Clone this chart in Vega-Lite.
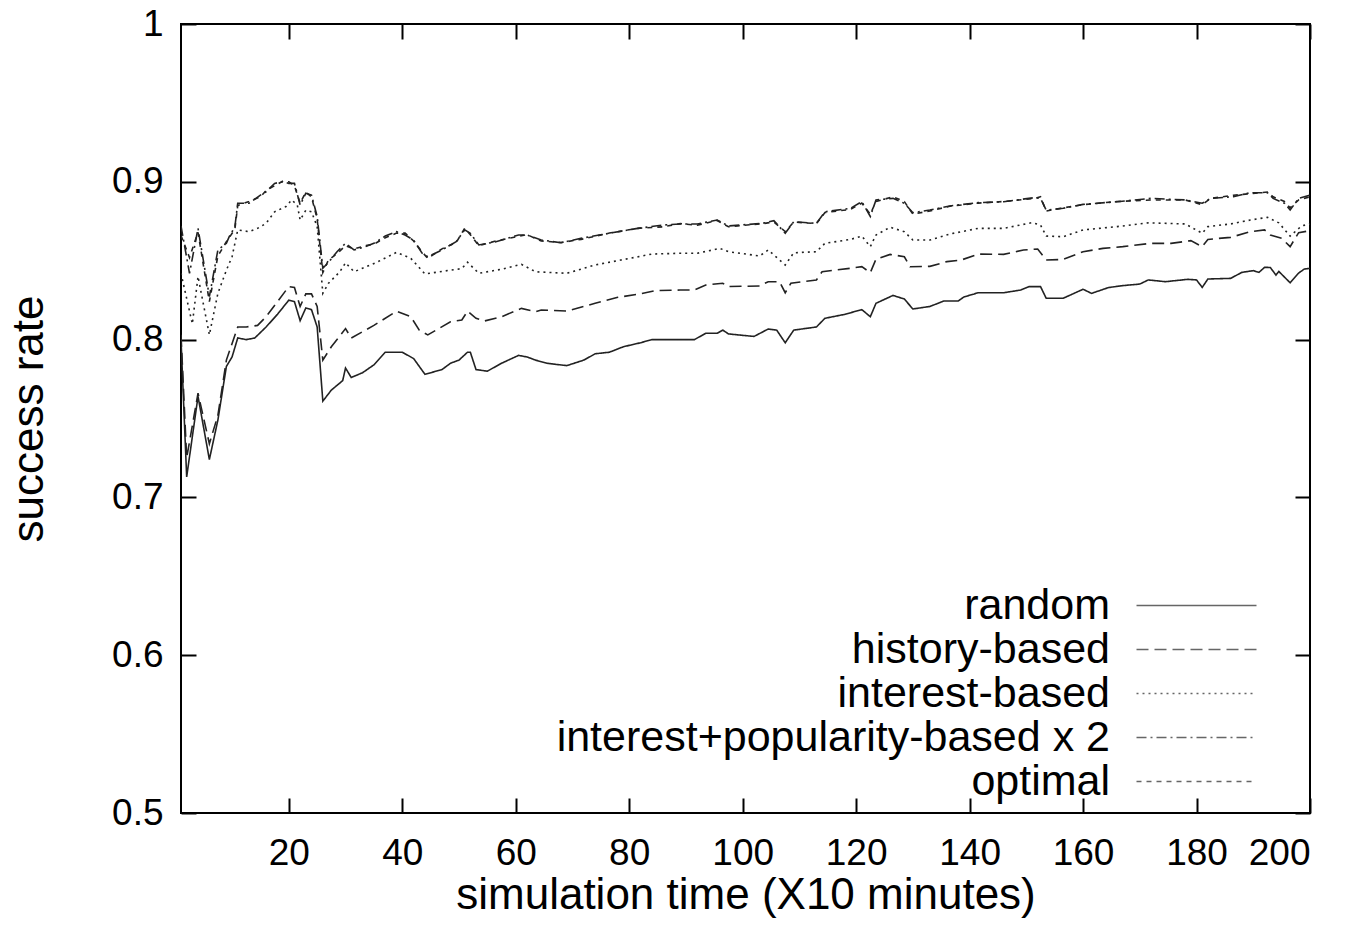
{
  "$schema": "https://vega.github.io/schema/vega-lite/v6.json",
  "width": 1129,
  "height": 789,
  "autosize": {"type": "none"},
  "padding": {"left": 181, "top": 24, "right": 46, "bottom": 132},
  "background": "white",
  "config": {
    "font": "Liberation Sans",
    "view": {"stroke": "#000", "strokeWidth": 2},
    "axis": {
      "grid": false, "domain": false, "ticks": true, "tickColor": "#000", "tickWidth": 2, "tickSize": -15,
      "labelColor": "#000", "labelFontSize": 37, "labelFont": "Liberation Sans",
      "titleFont": "Liberation Sans", "titleFontSize": 44, "titleFontWeight": "normal", "titleColor": "#000"
    },
    "legend": {
      "orient": "none", "legendX": 994, "legendY": 560, "title": null,
      "symbolType": "M-6,0H6", "symbolSize": 400, "symbolStrokeWidth": 1.5, "symbolStrokeColor": "#666", "symbolFillColor": "transparent",
      "labelAlign": "right", "labelOffset": -108, "labelFontSize": 43, "labelColor": "#000",
      "labelFont": "Liberation Sans", "rowPadding": -2.5, "padding": 0, "labelLimit": 0
    }
  },
  "datasets": {
    "d": [
      {"t":1,"s":"random","v":0.800},{"t":2,"s":"random","v":0.713},{"t":4,"s":"random","v":0.764},{"t":6,"s":"random","v":0.724},{"t":7.5,"s":"random","v":0.749},{"t":9,"s":"random","v":0.783},{"t":10,"s":"random","v":0.789},{"t":11,"s":"random","v":0.801},{"t":12.5,"s":"random","v":0.800},{"t":14,"s":"random","v":0.801},{"t":16,"s":"random","v":0.808},{"t":18,"s":"random","v":0.816},{"t":20,"s":"random","v":0.825},{"t":21,"s":"random","v":0.824},{"t":22,"s":"random","v":0.812},{"t":23,"s":"random","v":0.820},{"t":24,"s":"random","v":0.819},{"t":25,"s":"random","v":0.808},{"t":26,"s":"random","v":0.761},{"t":27.5,"s":"random","v":0.768},{"t":29.5,"s":"random","v":0.774},{"t":30,"s":"random","v":0.782},{"t":31,"s":"random","v":0.776},{"t":33,"s":"random","v":0.779},{"t":35,"s":"random","v":0.784},{"t":37,"s":"random","v":0.792},{"t":40,"s":"random","v":0.792},{"t":42,"s":"random","v":0.788},{"t":44,"s":"random","v":0.778},{"t":47,"s":"random","v":0.781},{"t":48.5,"s":"random","v":0.785},{"t":50,"s":"random","v":0.787},{"t":51.5,"s":"random","v":0.792},{"t":52,"s":"random","v":0.792},{"t":53,"s":"random","v":0.781},{"t":55,"s":"random","v":0.780},{"t":57.5,"s":"random","v":0.785},{"t":60.5,"s":"random","v":0.790},{"t":62,"s":"random","v":0.789},{"t":63.5,"s":"random","v":0.787},{"t":65.5,"s":"random","v":0.785},{"t":69,"s":"random","v":0.7835},{"t":72,"s":"random","v":0.787},{"t":74,"s":"random","v":0.791},{"t":76.5,"s":"random","v":0.792},{"t":79,"s":"random","v":0.7955},{"t":82,"s":"random","v":0.798},{"t":84,"s":"random","v":0.800},{"t":89,"s":"random","v":0.800},{"t":91.5,"s":"random","v":0.800},{"t":93.5,"s":"random","v":0.804},{"t":95.5,"s":"random","v":0.804},{"t":96.5,"s":"random","v":0.806},{"t":97.5,"s":"random","v":0.8036},{"t":102,"s":"random","v":0.802},{"t":104.5,"s":"random","v":0.8067},{"t":106,"s":"random","v":0.806},{"t":107.5,"s":"random","v":0.798},{"t":109,"s":"random","v":0.806},{"t":113,"s":"random","v":0.808},{"t":114.5,"s":"random","v":0.8135},{"t":118,"s":"random","v":0.816},{"t":121,"s":"random","v":0.819},{"t":122.5,"s":"random","v":0.8145},{"t":123.5,"s":"random","v":0.823},{"t":126.5,"s":"random","v":0.828},{"t":128.5,"s":"random","v":0.8257},{"t":130,"s":"random","v":0.8194},{"t":133,"s":"random","v":0.821},{"t":135.5,"s":"random","v":0.8245},{"t":138,"s":"random","v":0.8245},{"t":139,"s":"random","v":0.827},{"t":141.5,"s":"random","v":0.8297},{"t":146,"s":"random","v":0.8297},{"t":149,"s":"random","v":0.8314},{"t":150.5,"s":"random","v":0.8336},{"t":152.5,"s":"random","v":0.8336},{"t":153.5,"s":"random","v":0.8262},{"t":156.5,"s":"random","v":0.8262},{"t":160,"s":"random","v":0.8319},{"t":161.5,"s":"random","v":0.8293},{"t":164.5,"s":"random","v":0.833},{"t":167,"s":"random","v":0.8342},{"t":170,"s":"random","v":0.8352},{"t":171.5,"s":"random","v":0.8378},{"t":174.5,"s":"random","v":0.8367},{"t":178.5,"s":"random","v":0.8382},{"t":180,"s":"random","v":0.8378},{"t":181,"s":"random","v":0.8331},{"t":182,"s":"random","v":0.8384},{"t":186,"s":"random","v":0.8388},{"t":188,"s":"random","v":0.8426},{"t":190,"s":"random","v":0.8437},{"t":191,"s":"random","v":0.8426},{"t":192,"s":"random","v":0.8458},{"t":193,"s":"random","v":0.8457},{"t":194,"s":"random","v":0.8409},{"t":194.5,"s":"random","v":0.8432},{"t":196.5,"s":"random","v":0.836},{"t":198,"s":"random","v":0.8422},{"t":199,"s":"random","v":0.8447},{"t":200,"s":"random","v":0.8452},

      {"t":1,"s":"history-based","v":0.803},{"t":2,"s":"history-based","v":0.725},{"t":4,"s":"history-based","v":0.766},{"t":6,"s":"history-based","v":0.734},{"t":7.5,"s":"history-based","v":0.752},{"t":9,"s":"history-based","v":0.787},{"t":11,"s":"history-based","v":0.808},{"t":12.5,"s":"history-based","v":0.808},{"t":14.5,"s":"history-based","v":0.809},{"t":16,"s":"history-based","v":0.8145},{"t":18,"s":"history-based","v":0.824},{"t":20,"s":"history-based","v":0.8336},{"t":21,"s":"history-based","v":0.833},{"t":22,"s":"history-based","v":0.821},{"t":23,"s":"history-based","v":0.829},{"t":24,"s":"history-based","v":0.829},{"t":25,"s":"history-based","v":0.821},{"t":26,"s":"history-based","v":0.787},{"t":27.5,"s":"history-based","v":0.7955},{"t":30,"s":"history-based","v":0.807},{"t":31,"s":"history-based","v":0.801},{"t":33,"s":"history-based","v":0.805},{"t":35,"s":"history-based","v":0.809},{"t":39,"s":"history-based","v":0.818},{"t":41.5,"s":"history-based","v":0.8145},{"t":43,"s":"history-based","v":0.806},{"t":44.5,"s":"history-based","v":0.803},{"t":48.5,"s":"history-based","v":0.8113},{"t":50.5,"s":"history-based","v":0.8124},{"t":51.5,"s":"history-based","v":0.818},{"t":53,"s":"history-based","v":0.8135},{"t":54.5,"s":"history-based","v":0.8118},{"t":57.5,"s":"history-based","v":0.8145},{"t":61,"s":"history-based","v":0.8198},{"t":63.5,"s":"history-based","v":0.8177},{"t":64.5,"s":"history-based","v":0.8188},{"t":69,"s":"history-based","v":0.8181},{"t":74,"s":"history-based","v":0.823},{"t":78,"s":"history-based","v":0.8268},{"t":81.5,"s":"history-based","v":0.8287},{"t":84.5,"s":"history-based","v":0.831},{"t":89,"s":"history-based","v":0.8314},{"t":91.5,"s":"history-based","v":0.8314},{"t":93.5,"s":"history-based","v":0.8346},{"t":96.5,"s":"history-based","v":0.8357},{"t":97.5,"s":"history-based","v":0.8336},{"t":103,"s":"history-based","v":0.834},{"t":104.5,"s":"history-based","v":0.8367},{"t":106.5,"s":"history-based","v":0.8367},{"t":107.5,"s":"history-based","v":0.8297},{"t":108.5,"s":"history-based","v":0.8357},{"t":113,"s":"history-based","v":0.8378},{"t":114,"s":"history-based","v":0.843},{"t":119,"s":"history-based","v":0.8452},{"t":121,"s":"history-based","v":0.8462},{"t":122.5,"s":"history-based","v":0.8424},{"t":123.5,"s":"history-based","v":0.851},{"t":126,"s":"history-based","v":0.854},{"t":128.5,"s":"history-based","v":0.8525},{"t":129.5,"s":"history-based","v":0.8462},{"t":133,"s":"history-based","v":0.8464},{"t":136,"s":"history-based","v":0.8494},{"t":138.5,"s":"history-based","v":0.8504},{"t":141.5,"s":"history-based","v":0.8542},{"t":146,"s":"history-based","v":0.854},{"t":149.5,"s":"history-based","v":0.8568},{"t":152,"s":"history-based","v":0.8574},{"t":153.5,"s":"history-based","v":0.8504},{"t":156.5,"s":"history-based","v":0.8508},{"t":160,"s":"history-based","v":0.8557},{"t":163.5,"s":"history-based","v":0.8578},{"t":167,"s":"history-based","v":0.8589},{"t":172,"s":"history-based","v":0.861},{"t":175.5,"s":"history-based","v":0.861},{"t":179,"s":"history-based","v":0.8627},{"t":181,"s":"history-based","v":0.8589},{"t":182,"s":"history-based","v":0.8635},{"t":186,"s":"history-based","v":0.8648},{"t":189.5,"s":"history-based","v":0.8684},{"t":192,"s":"history-based","v":0.8695},{"t":193,"s":"history-based","v":0.8663},{"t":195,"s":"history-based","v":0.8642},{"t":196.5,"s":"history-based","v":0.8589},{"t":198,"s":"history-based","v":0.8678},{"t":200,"s":"history-based","v":0.869},

      {"t":1,"s":"interest-based","v":0.842},{"t":3,"s":"interest-based","v":0.810},{"t":4,"s":"interest-based","v":0.840},{"t":6,"s":"interest-based","v":0.803},{"t":7.5,"s":"interest-based","v":0.8293},{"t":9,"s":"interest-based","v":0.844},{"t":10,"s":"interest-based","v":0.8525},{"t":11,"s":"interest-based","v":0.8695},{"t":13,"s":"interest-based","v":0.8684},{"t":14.5,"s":"interest-based","v":0.8705},{"t":16,"s":"interest-based","v":0.8737},{"t":17.5,"s":"interest-based","v":0.881},{"t":19.5,"s":"interest-based","v":0.8843},{"t":20.5,"s":"interest-based","v":0.8885},{"t":21.5,"s":"interest-based","v":0.8853},{"t":22,"s":"interest-based","v":0.8758},{"t":23,"s":"interest-based","v":0.882},{"t":24,"s":"interest-based","v":0.881},{"t":25,"s":"interest-based","v":0.8716},{"t":26,"s":"interest-based","v":0.8293},{"t":27,"s":"interest-based","v":0.8357},{"t":29,"s":"interest-based","v":0.843},{"t":30,"s":"interest-based","v":0.8487},{"t":31.5,"s":"interest-based","v":0.843},{"t":33,"s":"interest-based","v":0.8452},{"t":35.5,"s":"interest-based","v":0.849},{"t":39,"s":"interest-based","v":0.8553},{"t":41.5,"s":"interest-based","v":0.8515},{"t":44,"s":"interest-based","v":0.8416},{"t":48.5,"s":"interest-based","v":0.844},{"t":50.5,"s":"interest-based","v":0.845},{"t":51.5,"s":"interest-based","v":0.849},{"t":53.5,"s":"interest-based","v":0.842},{"t":57.5,"s":"interest-based","v":0.8446},{"t":61,"s":"interest-based","v":0.8477},{"t":63.5,"s":"interest-based","v":0.843},{"t":69,"s":"interest-based","v":0.842},{"t":74,"s":"interest-based","v":0.8473},{"t":78.5,"s":"interest-based","v":0.8504},{"t":84,"s":"interest-based","v":0.8542},{"t":89,"s":"interest-based","v":0.8547},{"t":92,"s":"interest-based","v":0.8547},{"t":96,"s":"interest-based","v":0.8578},{"t":97.5,"s":"interest-based","v":0.8557},{"t":103,"s":"interest-based","v":0.853},{"t":104.5,"s":"interest-based","v":0.8568},{"t":107.5,"s":"interest-based","v":0.8473},{"t":109,"s":"interest-based","v":0.855},{"t":113,"s":"interest-based","v":0.8557},{"t":114.5,"s":"interest-based","v":0.861},{"t":119,"s":"interest-based","v":0.8635},{"t":121,"s":"interest-based","v":0.8656},{"t":122.5,"s":"interest-based","v":0.8589},{"t":123.5,"s":"interest-based","v":0.8663},{"t":126,"s":"interest-based","v":0.8712},{"t":128.5,"s":"interest-based","v":0.8684},{"t":130,"s":"interest-based","v":0.8631},{"t":133,"s":"interest-based","v":0.8631},{"t":136.5,"s":"interest-based","v":0.8669},{"t":141.5,"s":"interest-based","v":0.8705},{"t":146,"s":"interest-based","v":0.8705},{"t":151,"s":"interest-based","v":0.8741},{"t":152.5,"s":"interest-based","v":0.8726},{"t":153.5,"s":"interest-based","v":0.8656},{"t":156.5,"s":"interest-based","v":0.8652},{"t":160,"s":"interest-based","v":0.8695},{"t":166,"s":"interest-based","v":0.8716},{"t":171.5,"s":"interest-based","v":0.874},{"t":178,"s":"interest-based","v":0.8733},{"t":181,"s":"interest-based","v":0.8674},{"t":182,"s":"interest-based","v":0.8716},{"t":186,"s":"interest-based","v":0.8733},{"t":189.5,"s":"interest-based","v":0.8758},{"t":192.5,"s":"interest-based","v":0.8775},{"t":194.5,"s":"interest-based","v":0.874},{"t":196.5,"s":"interest-based","v":0.8656},{"t":198.5,"s":"interest-based","v":0.872},{"t":200,"s":"interest-based","v":0.8733},

      {"t":1,"s":"interest+popularity-based x 2","v":0.872},{"t":2.5,"s":"interest+popularity-based x 2","v":0.842},{"t":4,"s":"interest+popularity-based x 2","v":0.8705},{"t":6,"s":"interest+popularity-based x 2","v":0.8272},{"t":7.5,"s":"interest+popularity-based x 2","v":0.8568},{"t":9,"s":"interest+popularity-based x 2","v":0.861},{"t":9.5,"s":"interest+popularity-based x 2","v":0.8652},{"t":10.5,"s":"interest+popularity-based x 2","v":0.8716},{"t":11,"s":"interest+popularity-based x 2","v":0.8864},{"t":13,"s":"interest+popularity-based x 2","v":0.8864},{"t":15,"s":"interest+popularity-based x 2","v":0.8916},{"t":16,"s":"interest+popularity-based x 2","v":0.8937},{"t":17.5,"s":"interest+popularity-based x 2","v":0.899},{"t":19,"s":"interest+popularity-based x 2","v":0.9001},{"t":20,"s":"interest+popularity-based x 2","v":0.899},{"t":21,"s":"interest+popularity-based x 2","v":0.899},{"t":22,"s":"interest+popularity-based x 2","v":0.8853},{"t":23,"s":"interest+popularity-based x 2","v":0.8927},{"t":24,"s":"interest+popularity-based x 2","v":0.8916},{"t":25,"s":"interest+popularity-based x 2","v":0.878},{"t":26,"s":"interest+popularity-based x 2","v":0.8452},{"t":27,"s":"interest+popularity-based x 2","v":0.849},{"t":28.5,"s":"interest+popularity-based x 2","v":0.8557},{"t":30,"s":"interest+popularity-based x 2","v":0.861},{"t":31.5,"s":"interest+popularity-based x 2","v":0.8568},{"t":33.5,"s":"interest+popularity-based x 2","v":0.8589},{"t":35,"s":"interest+popularity-based x 2","v":0.861},{"t":37,"s":"interest+popularity-based x 2","v":0.8656},{"t":39,"s":"interest+popularity-based x 2","v":0.8684},{"t":40.5,"s":"interest+popularity-based x 2","v":0.8663},{"t":42,"s":"interest+popularity-based x 2","v":0.8631},{"t":43.5,"s":"interest+popularity-based x 2","v":0.8547},{"t":44.5,"s":"interest+popularity-based x 2","v":0.8525},{"t":47,"s":"interest+popularity-based x 2","v":0.8568},{"t":49.5,"s":"interest+popularity-based x 2","v":0.862},{"t":51,"s":"interest+popularity-based x 2","v":0.8695},{"t":52,"s":"interest+popularity-based x 2","v":0.8674},{"t":53.5,"s":"interest+popularity-based x 2","v":0.86},{"t":56.5,"s":"interest+popularity-based x 2","v":0.862},{"t":60.5,"s":"interest+popularity-based x 2","v":0.8663},{"t":62,"s":"interest+popularity-based x 2","v":0.8663},{"t":64.5,"s":"interest+popularity-based x 2","v":0.8631},{"t":68,"s":"interest+popularity-based x 2","v":0.8614},{"t":71.5,"s":"interest+popularity-based x 2","v":0.8642},{"t":76.5,"s":"interest+popularity-based x 2","v":0.8674},{"t":81.5,"s":"interest+popularity-based x 2","v":0.8705},{"t":86,"s":"interest+popularity-based x 2","v":0.8726},{"t":89,"s":"interest+popularity-based x 2","v":0.8733},{"t":92,"s":"interest+popularity-based x 2","v":0.8733},{"t":95.5,"s":"interest+popularity-based x 2","v":0.8758},{"t":97.5,"s":"interest+popularity-based x 2","v":0.872},{"t":103.5,"s":"interest+popularity-based x 2","v":0.8737},{"t":105.5,"s":"interest+popularity-based x 2","v":0.8754},{"t":107.5,"s":"interest+popularity-based x 2","v":0.8674},{"t":109,"s":"interest+popularity-based x 2","v":0.8747},{"t":113,"s":"interest+popularity-based x 2","v":0.8737},{"t":114.5,"s":"interest+popularity-based x 2","v":0.881},{"t":119,"s":"interest+popularity-based x 2","v":0.8832},{"t":121,"s":"interest+popularity-based x 2","v":0.8874},{"t":122.5,"s":"interest+popularity-based x 2","v":0.878},{"t":123.5,"s":"interest+popularity-based x 2","v":0.8885},{"t":126.5,"s":"interest+popularity-based x 2","v":0.8895},{"t":128.5,"s":"interest+popularity-based x 2","v":0.8864},{"t":130,"s":"interest+popularity-based x 2","v":0.8804},{"t":133,"s":"interest+popularity-based x 2","v":0.8821},{"t":136.5,"s":"interest+popularity-based x 2","v":0.8847},{"t":141.5,"s":"interest+popularity-based x 2","v":0.8868},{"t":146,"s":"interest+popularity-based x 2","v":0.8874},{"t":151.5,"s":"interest+popularity-based x 2","v":0.89},{"t":152.5,"s":"interest+popularity-based x 2","v":0.8895},{"t":153.5,"s":"interest+popularity-based x 2","v":0.8821},{"t":156.5,"s":"interest+popularity-based x 2","v":0.8832},{"t":160,"s":"interest+popularity-based x 2","v":0.8857},{"t":166,"s":"interest+popularity-based x 2","v":0.8874},{"t":172,"s":"interest+popularity-based x 2","v":0.8895},{"t":178,"s":"interest+popularity-based x 2","v":0.8885},{"t":181,"s":"interest+popularity-based x 2","v":0.8864},{"t":182.5,"s":"interest+popularity-based x 2","v":0.8895},{"t":186.5,"s":"interest+popularity-based x 2","v":0.8906},{"t":189.5,"s":"interest+popularity-based x 2","v":0.8931},{"t":192.5,"s":"interest+popularity-based x 2","v":0.8931},{"t":193.5,"s":"interest+popularity-based x 2","v":0.8895},{"t":195.5,"s":"interest+popularity-based x 2","v":0.8864},{"t":196.5,"s":"interest+popularity-based x 2","v":0.8821},{"t":198,"s":"interest+popularity-based x 2","v":0.8895},{"t":200,"s":"interest+popularity-based x 2","v":0.8916},

      {"t":1,"s":"optimal","v":0.866},{"t":2.5,"s":"optimal","v":0.852},{"t":4,"s":"optimal","v":0.868},{"t":6,"s":"optimal","v":0.824},{"t":7.5,"s":"optimal","v":0.853},{"t":9,"s":"optimal","v":0.862},{"t":10.5,"s":"optimal","v":0.870},{"t":11,"s":"optimal","v":0.885},{"t":13,"s":"optimal","v":0.8875},{"t":15,"s":"optimal","v":0.8905},{"t":16,"s":"optimal","v":0.8945},{"t":17.5,"s":"optimal","v":0.8975},{"t":19,"s":"optimal","v":0.9005},{"t":20,"s":"optimal","v":0.900},{"t":21,"s":"optimal","v":0.8975},{"t":22,"s":"optimal","v":0.8865},{"t":23,"s":"optimal","v":0.8935},{"t":24,"s":"optimal","v":0.8905},{"t":25,"s":"optimal","v":0.8765},{"t":26,"s":"optimal","v":0.8425},{"t":27,"s":"optimal","v":0.8505},{"t":28.5,"s":"optimal","v":0.8545},{"t":30,"s":"optimal","v":0.8595},{"t":31.5,"s":"optimal","v":0.8575},{"t":33.5,"s":"optimal","v":0.8595},{"t":35,"s":"optimal","v":0.8605},{"t":37,"s":"optimal","v":0.8645},{"t":39,"s":"optimal","v":0.8675},{"t":40.5,"s":"optimal","v":0.8675},{"t":42,"s":"optimal","v":0.8625},{"t":43.5,"s":"optimal","v":0.8555},{"t":44.5,"s":"optimal","v":0.8515},{"t":47,"s":"optimal","v":0.8575},{"t":49.5,"s":"optimal","v":0.8615},{"t":51,"s":"optimal","v":0.8705},{"t":52,"s":"optimal","v":0.8665},{"t":53.5,"s":"optimal","v":0.8595},{"t":56.5,"s":"optimal","v":0.8625},{"t":60.5,"s":"optimal","v":0.8655},{"t":62,"s":"optimal","v":0.8665},{"t":64.5,"s":"optimal","v":0.8625},{"t":68,"s":"optimal","v":0.8615},{"t":71.5,"s":"optimal","v":0.8635},{"t":76.5,"s":"optimal","v":0.8675},{"t":81.5,"s":"optimal","v":0.8705},{"t":86,"s":"optimal","v":0.8715},{"t":89,"s":"optimal","v":0.8735},{"t":92,"s":"optimal","v":0.8725},{"t":95.5,"s":"optimal","v":0.8755},{"t":97.5,"s":"optimal","v":0.8715},{"t":103.5,"s":"optimal","v":0.8735},{"t":105.5,"s":"optimal","v":0.8745},{"t":107.5,"s":"optimal","v":0.8685},{"t":109,"s":"optimal","v":0.8745},{"t":113,"s":"optimal","v":0.8735},{"t":114.5,"s":"optimal","v":0.8805},{"t":119,"s":"optimal","v":0.8825},{"t":121,"s":"optimal","v":0.8865},{"t":122.5,"s":"optimal","v":0.8795},{"t":123.5,"s":"optimal","v":0.8875},{"t":126.5,"s":"optimal","v":0.8905},{"t":128.5,"s":"optimal","v":0.8875},{"t":130,"s":"optimal","v":0.8795},{"t":133,"s":"optimal","v":0.8815},{"t":136.5,"s":"optimal","v":0.8845},{"t":141.5,"s":"optimal","v":0.8865},{"t":146,"s":"optimal","v":0.8875},{"t":151.5,"s":"optimal","v":0.8895},{"t":152.5,"s":"optimal","v":0.8905},{"t":153.5,"s":"optimal","v":0.8815},{"t":156.5,"s":"optimal","v":0.8835},{"t":160,"s":"optimal","v":0.8855},{"t":166,"s":"optimal","v":0.8875},{"t":172,"s":"optimal","v":0.8885},{"t":178,"s":"optimal","v":0.8885},{"t":181,"s":"optimal","v":0.8855},{"t":182.5,"s":"optimal","v":0.8895},{"t":186.5,"s":"optimal","v":0.8915},{"t":189.5,"s":"optimal","v":0.8925},{"t":192.5,"s":"optimal","v":0.8935},{"t":193.5,"s":"optimal","v":0.8905},{"t":195.5,"s":"optimal","v":0.8875},{"t":196.5,"s":"optimal","v":0.8835},{"t":198,"s":"optimal","v":0.8885},{"t":200,"s":"optimal","v":0.8905}
    ]
  },
  "data": {"name": "d"},
  "layer": [
    {
      "mark": {"type": "line", "strokeWidth": 1.6, "color": "#222", "clip": true},
      "encoding": {
        "x": {"field": "t", "type": "quantitative",
              "scale": {"domain": [1, 200], "nice": false, "zero": false},
              "axis": {"values": [20, 40, 60, 80, 100, 120, 140, 160, 180, 200], "title": "simulation time (X10 minutes)", "labelPadding": 37, "titlePadding": 2}},
        "y": {"field": "v", "type": "quantitative",
              "scale": {"domain": [0.5, 1], "nice": false, "zero": false},
              "axis": {"values": [0.5, 0.6, 0.7, 0.8, 0.9, 1], "labelExpr": "datum.value == 1 ? '1' : format(datum.value, '.1f')", "title": "success rate", "labelPadding": 33, "titlePadding": 60}},
        "strokeDash": {"field": "s", "type": "nominal",
              "scale": {"domain": ["random", "history-based", "interest-based", "interest+popularity-based x 2", "optimal"],
                        "range": [[1, 0], [12, 6], [2, 4], [10, 4, 2, 4], [5, 5]]}},
        "detail": {"field": "s"}
      }
    },
    {
      "mark": {"type": "point", "opacity": 0},
      "encoding": {
        "x": {"field": "t", "type": "quantitative", "axis": {"orient": "top", "values": [20, 40, 60, 80, 100, 120, 140, 160, 180, 200], "labels": false, "title": null}},
        "y": {"field": "v", "type": "quantitative", "axis": {"orient": "right", "values": [0.5, 0.6, 0.7, 0.8, 0.9, 1], "labels": false, "title": null}}
      }
    }
  ],
  "resolve": {"axis": {"x": "independent", "y": "independent"}}
}
